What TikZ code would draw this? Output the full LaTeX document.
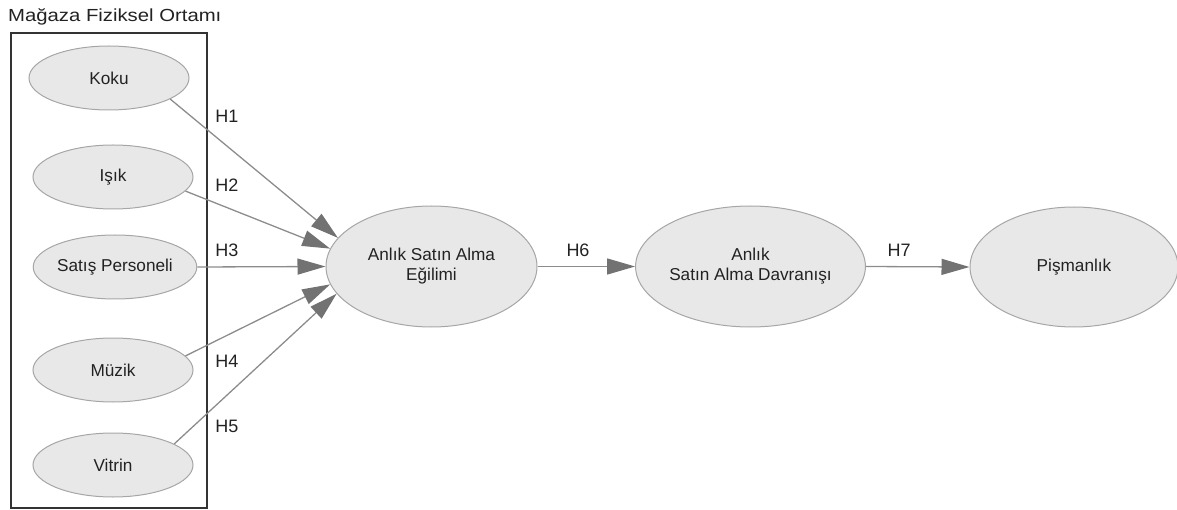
\documentclass[tikz,border=0pt]{standalone}
\usepackage{fontspec}
\setmainfont{Liberation Sans}
\newfontfamily\titlefont[FakeStretch=1.16]{Liberation Sans}
\usetikzlibrary{shapes.geometric,arrows.meta}
\definecolor{efill}{HTML}{E8E8E8}
\definecolor{edraw}{HTML}{A6A6A6}
\definecolor{aline}{HTML}{8C8C8C}
\definecolor{ahead}{HTML}{727272}
\definecolor{txt}{HTML}{222222}
\definecolor{boxc}{HTML}{333333}
\tikzset{
  ell/.style={ellipse, draw=edraw, fill=efill, line width=1pt, inner sep=0pt, text=txt, align=center, font=\fontsize{17.2}{20}\selectfont},
  arr/.style={draw=aline, line width=1.3pt, -{Triangle[length=28pt,width=16pt,fill=ahead,color=ahead]}},
  hlab/.style={text=txt, font=\fontsize{18}{20}\selectfont, inner sep=0pt},
}
\begin{document}
\begin{tikzpicture}[x=1pt,y=-1pt]
\useasboundingbox (0,0) rectangle (1177,510);
\node[anchor=base west, text=txt, font=\titlefont\fontsize{17.5}{20}\selectfont, inner sep=0pt] (title) at (8,22) {Mağaza Fiziksel Ortamı};
\draw[draw=boxc, line width=1.5pt] (11,33) rectangle (207,508);
\node[ell, minimum width=160pt, minimum height=64pt] (koku) at (109,78) {Koku};
\node[ell, minimum width=160pt, minimum height=64pt] (isik) at (113,177) {Işık};
\node[ell, minimum width=160pt, minimum height=64pt] (satis) at (115,267) {Satış Personeli};
\node[ell, minimum width=160pt, minimum height=64pt] (muzik) at (113,370) {Müzik};
\node[ell, minimum width=160pt, minimum height=64pt] (vitrin) at (113,465) {Vitrin};
\node[ell, minimum width=211pt, minimum height=121pt] (egilim) at (431.5,266.5) {Anlık Satın Alma\\Eğilimi};
\node[ell, minimum width=211pt, minimum height=121pt] (davranis) at (750.5,266.5) {Anlık\\Satın Alma Davranışı};
\node[ell, minimum width=208pt, minimum height=120pt] (pisman) at (1074,267) {Pişmanlık};
\draw[arr] (koku.-19.3) -- (egilim.163.5);
\draw[arr] (isik.-11.5) -- (egilim.170.2);
\draw[arr] (satis.0) -- (egilim.180);
\draw[arr] (muzik.11) -- (egilim.190.3);
\draw[arr] (vitrin.19.5) -- (egilim.196.4);
\draw[arr] (egilim.0) -- (davranis.180);
\draw[arr] (davranis.0) -- (pisman.180);
\node[hlab] (h1) at (227,116) {H1};
\node[hlab] (h2) at (227,185) {H2};
\node[hlab] (h3) at (227,250) {H3};
\node[hlab] (h4) at (227,361) {H4};
\node[hlab] (h5) at (227,426) {H5};
\node[hlab] (h6) at (578,250) {H6};
\node[hlab] (h7) at (899,250) {H7};
\end{tikzpicture}
\end{document}
